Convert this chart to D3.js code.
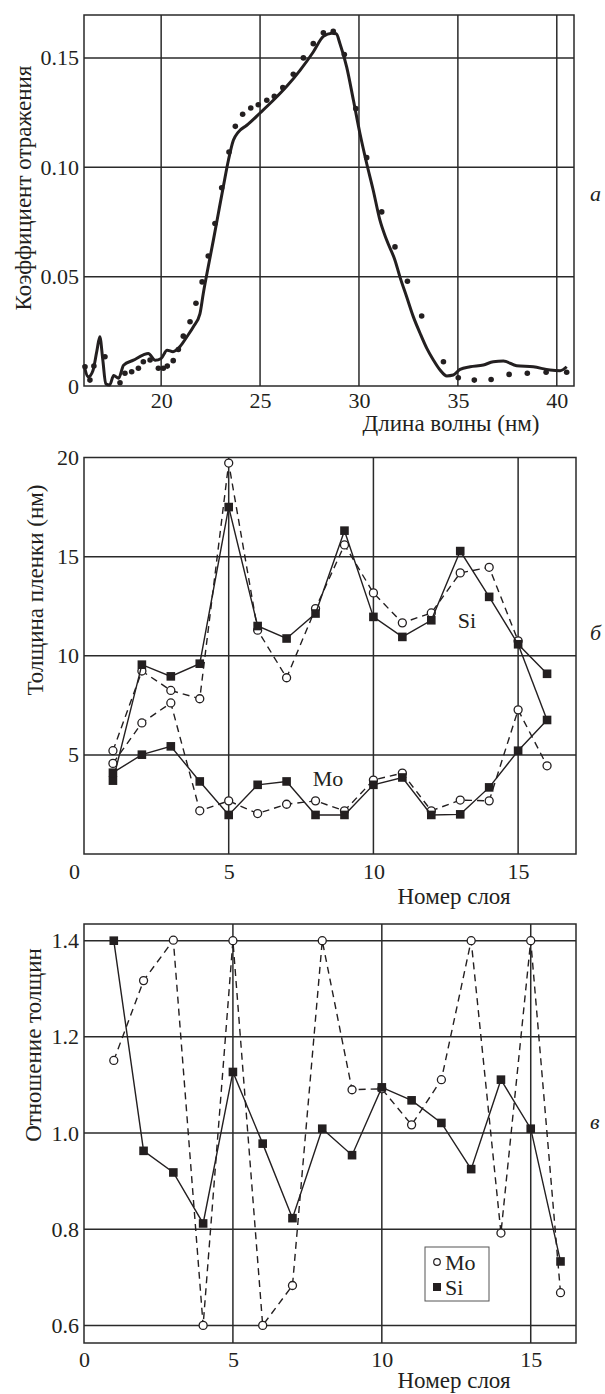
<!DOCTYPE html>
<html>
<head>
<meta charset="utf-8">
<script src="https://cdn.jsdelivr.net/npm/d3@7/dist/d3.min.js"></script>
<style>
  body { margin: 0; background: #fff; }
  svg text { font-family: "Liberation Serif", "Times New Roman", serif; fill: #231f20; }
</style>
</head>
<body>
<div id="container"></div>
<script>
/* panel a: reflectance spectrum, calculated curve and measured points */
var specX = [16.1, 16.32, 16.55, 16.75, 16.9, 17.05, 17.2, 17.4, 17.6, 17.85, 18.1, 18.6, 19.1, 19.35, 19.7, 20.0, 20.3, 20.6, 20.95, 21.3,
  21.63, 21.96, 22.13, 22.38, 22.64, 22.89, 23.14, 23.4, 23.65, 23.9, 24.33, 25.0, 25.67, 26.35, 27.02, 27.69, 28.2, 28.62, 28.85, 29.04,
  29.38, 29.72, 30.05, 30.39, 30.72, 31.06, 31.4, 31.82, 32.07, 32.41, 32.75, 33.09, 33.43, 33.76, 34.1, 34.44, 34.77, 35.11, 35.62, 36.29,
  36.79, 37.3, 37.97, 38.81, 39.66, 40.17, 40.5]
var specY = [0.0096, 0.0042, 0.007, 0.016, 0.0225, 0.012, 0.001, 0.0005, 0.0048, 0.0035, 0.0095, 0.0118, 0.0142, 0.0149, 0.0118, 0.0126, 0.0164, 0.0157, 0.018, 0.0225,
  0.0271, 0.033, 0.0423, 0.0545, 0.0667, 0.0789, 0.091, 0.1032, 0.1123, 0.1161, 0.1192, 0.1248, 0.1306, 0.137, 0.1443, 0.1527, 0.1598, 0.1613, 0.161, 0.1565,
  0.1458, 0.1306, 0.1154, 0.1017, 0.0895, 0.0758, 0.0667, 0.0575, 0.0499, 0.0408, 0.0316, 0.0241, 0.0172, 0.0119, 0.0073, 0.0046, 0.005, 0.0076, 0.0088, 0.0096,
  0.0111, 0.0114, 0.0093, 0.0088, 0.0073, 0.007, 0.0088]
var dotX = [16.15, 16.4, 16.6, 17.16, 17.92, 18.17, 18.51, 18.85, 19.1, 19.44, 19.86, 20.11, 20.31, 20.61, 20.87, 21.12, 21.46, 21.76, 22.07, 22.38,
  22.72, 23.06, 23.43, 23.75, 24.12, 24.53, 24.91, 25.34, 25.72, 26.15, 26.68, 27.19, 27.69, 28.2, 28.7, 29.26, 29.84, 30.39, 31.15, 31.82,
  32.45, 33.17, 34.27, 35.02, 35.83, 36.68, 37.59, 38.51, 39.46, 40.5]
var dotY = [0.0088, 0.0027, 0.0091, 0.0134, 0.0015, 0.0058, 0.0065, 0.0081, 0.0111, 0.0119, 0.0081, 0.0081, 0.0091, 0.0116, 0.0167, 0.0228, 0.0294, 0.0378, 0.0476, 0.0594,
  0.0743, 0.0906, 0.107, 0.1187, 0.1242, 0.1271, 0.1286, 0.1306, 0.1324, 0.1364, 0.1425, 0.150, 0.1565, 0.1615, 0.1622, 0.1515, 0.1268, 0.1044, 0.0796, 0.0636,
  0.0479, 0.032, 0.0111, 0.0038, 0.0027, 0.003, 0.0053, 0.0058, 0.0063, 0.0063]
var aXTicks = [20, 25, 30, 35, 40]
var aYTicks = [0, 0.05, 0.10, 0.15]
var aYLabels = ['0', '0.05', '0.10', '0.15']

/* panel b: layer thickness (nm) */
var layers = [1, 2, 3, 4, 5, 6, 7, 8, 9, 10, 11, 12, 13, 14, 15, 16]
var siSquares = [3.7, 9.55, 8.96, 9.6, 17.5, 11.5, 10.87, 12.13, 16.31, 11.96, 10.95, 11.79, 15.28, 12.97, 10.58, 9.09]
var siCircles = [5.21, 9.23, 8.25, 7.83, 19.72, 11.29, 8.89, 12.38, 15.59, 13.17, 11.66, 12.16, 14.18, 14.46, 10.75]
var moSquares = [4.1, 5.01, 5.43, 3.66, 1.97, 3.49, 3.66, 1.97, 1.97, 3.49, 3.86, 1.97, 2.0, 3.36, 5.21, 6.76]
var moCircles = [4.57, 6.61, 7.62, 2.18, 2.68, 2.04, 2.51, 2.68, 2.18, 3.73, 4.08, 2.18, 2.72, 2.68, 7.27, 4.45]
var siToMoLink = [15, 16] // extra solid segment: Si layer 15 -> Mo layer 16
var bXTicks = [0, 5, 10, 15]
var bYTicks = [5, 10, 15, 20]

/* panel c: thickness ratio */
var moRatio = [1.151, 1.317, 1.401, 0.600, 1.40, 0.60, 0.683, 1.40, 1.090, 1.092, 1.017, 1.111, 1.40, 0.792, 1.40, 0.668]
var siRatio = [1.40, 0.963, 0.918, 0.812, 1.127, 0.978, 0.823, 1.009, 0.954, 1.095, 1.068, 1.021, 0.925, 1.111, 1.009, 0.733]
var cXTicks = [0, 5, 10, 15]
var cYTicks = [0.6, 0.8, 1.0, 1.2, 1.4]
var cYLabels = ['0.6', '0.8', '1.0', '1.2', '1.4']

var ink = '#231f20'
var serif = '"Liberation Serif", "Times New Roman", serif'
var tickSize = 22
var titleSize = 23

var svg = d3.select('#container').append('svg')
  .attr('width', 605)
  .attr('height', 1394)

function pairs (xs, ys) {
  return ys.map(function (v, i) { return [xs[i], v] })
}

function label (sel, size) {
  return sel.style('font-family', serif).style('font-size', size + 'px').style('fill', ink)
}

/* frame, grid, tick labels and titles of one panel */
function panel (o) {
  var x = d3.scaleLinear().domain(o.xDomain).range([o.left, o.right])
  var y = d3.scaleLinear().domain(o.yDomain).range([o.bottom, o.top])
  var g = svg.append('g')

  g.append('g').selectAll('line').data(o.xGrid).enter().append('line')
    .attr('x1', function (d) { return x(d) }).attr('x2', function (d) { return x(d) })
    .attr('y1', o.top).attr('y2', o.bottom)
    .style('stroke', '#2a2a2a').style('stroke-width', 1.5)
  g.append('g').selectAll('line').data(o.yGrid).enter().append('line')
    .attr('y1', function (d) { return y(d) }).attr('y2', function (d) { return y(d) })
    .attr('x1', o.left).attr('x2', o.right)
    .style('stroke', '#2a2a2a').style('stroke-width', 1.5)
  g.append('rect')
    .attr('x', o.left).attr('y', o.top)
    .attr('width', o.right - o.left).attr('height', o.bottom - o.top)
    .style('fill', 'none').style('stroke', '#2a2a2a').style('stroke-width', 1.5)

  var xAxis = g.append('g')
    .attr('transform', 'translate(0,' + o.bottom + ')')
    .call(d3.axisBottom(x).tickValues(o.xTicks).tickSize(0).tickPadding(o.xPad).tickFormat(d3.format('d')))
  var yAxis = g.append('g')
    .attr('transform', 'translate(' + o.left + ',0)')
    .call(d3.axisLeft(y).tickValues(o.yTicks).tickSize(0).tickPadding(5)
      .tickFormat(function (d, i) { return o.yLabels ? o.yLabels[i] : d }))
  ;[xAxis, yAxis].forEach(function (ax) {
    ax.select('.domain').remove()
    label(ax.selectAll('text'), tickSize)
  })
  if (o.zeroShift) xAxis.selectAll('.tick text').filter(function (d) { return d === 0 }).attr('dx', o.zeroShift)

  label(g.append('text'), titleSize)
    .attr('transform', 'translate(' + o.yTitlePos[0] + ',' + o.yTitlePos[1] + ') rotate(-90)')
    .attr('text-anchor', 'middle').attr('dy', '0.35em')
    .text(o.yTitle)
  label(g.append('text'), titleSize)
    .attr('x', o.xTitlePos[0]).attr('y', o.xTitlePos[1])
    .attr('text-anchor', 'middle')
    .text(o.xTitle)
  label(g.append('text'), tickSize)
    .attr('x', o.letterPos[0]).attr('y', o.letterPos[1])
    .style('font-style', 'italic')
    .text(o.letter)

  return { g: g, x: x, y: y }
}

function series (p, data, opts) {
  var line = d3.line().x(function (d) { return p.x(d[0]) }).y(function (d) { return p.y(d[1]) })
  p.g.append('path')
    .datum(data)
    .attr('d', line)
    .style('fill', 'none').style('stroke', ink).style('stroke-width', 1.4)
    .style('stroke-dasharray', opts.dashed ? '7,5' : null)
  var m = p.g.append('g').selectAll(opts.square ? 'rect' : 'circle').data(data).enter()
  if (opts.square) {
    m.append('rect')
      .attr('x', function (d) { return p.x(d[0]) - 4.3 })
      .attr('y', function (d) { return p.y(d[1]) - 4.3 })
      .attr('width', 8.6).attr('height', 8.6)
      .style('fill', ink)
  } else {
    m.append('circle')
      .attr('cx', function (d) { return p.x(d[0]) })
      .attr('cy', function (d) { return p.y(d[1]) })
      .attr('r', 4)
      .style('fill', '#fff').style('stroke', ink).style('stroke-width', 1.3)
  }
}

/* ---- panel a ---- */
var pa = panel({
  left: 84, right: 574, top: 15, bottom: 386,
  xDomain: [16.1, 40.87], yDomain: [0, 0.1696],
  xGrid: aXTicks, yGrid: aYTicks.slice(1),
  xTicks: aXTicks, yTicks: aYTicks, yLabels: aYLabels, xPad: 6,
  yTitle: 'Коэффициент отражения', yTitlePos: [23, 188],
  xTitle: 'Длина волны (нм)', xTitlePos: [451, 431],
  letter: 'а', letterPos: [590, 201]
})

pa.g.append('path')
  .datum(pairs(specX, specY))
  .attr('d', d3.line().curve(d3.curveMonotoneX)
    .x(function (d) { return pa.x(d[0]) }).y(function (d) { return pa.y(d[1]) }))
  .style('fill', 'none').style('stroke', ink).style('stroke-width', 3)
  .style('stroke-linejoin', 'round')

pa.g.append('g').selectAll('circle').data(pairs(dotX, dotY)).enter().append('circle')
  .attr('cx', function (d) { return pa.x(d[0]) })
  .attr('cy', function (d) { return pa.y(d[1]) })
  .attr('r', 2.8)
  .style('fill', ink)

/* ---- panel b ---- */
var pb = panel({
  left: 84, right: 576, top: 457.5, bottom: 854,
  xDomain: [0, 17], yDomain: [0, 20],
  xGrid: [5, 10, 15], yGrid: [5, 10, 15],
  xTicks: bXTicks, yTicks: bYTicks, xPad: 9, zeroShift: -10,
  yTitle: 'Толщина пленки (нм)', yTitlePos: [35, 590],
  xTitle: 'Номер слоя', xTitlePos: [454, 904],
  letter: 'б', letterPos: [590, 640]
})

series(pb, pairs(layers, siCircles), { dashed: true })
series(pb, pairs(layers, moCircles), { dashed: true })
pb.g.append('line')
  .attr('x1', pb.x(siToMoLink[0])).attr('y1', pb.y(siSquares[siToMoLink[0] - 1]))
  .attr('x2', pb.x(siToMoLink[1])).attr('y2', pb.y(moSquares[siToMoLink[1] - 1]))
  .style('stroke', ink).style('stroke-width', 1.4)
series(pb, pairs(layers, siSquares), { square: true })
series(pb, pairs(layers, moSquares), { square: true })

label(pb.g.append('text'), tickSize).attr('x', pb.x(13.23)).attr('y', pb.y(11.8)).attr('dy', '0.35em')
  .attr('text-anchor', 'middle').text('Si')
label(pb.g.append('text'), tickSize).attr('x', pb.x(8.43)).attr('y', pb.y(3.8)).attr('dy', '0.35em')
  .attr('text-anchor', 'middle').text('Mo')

/* ---- panel c ---- */
var pc = panel({
  left: 84, right: 576, top: 924, bottom: 1343,
  xDomain: [0, 16.52], yDomain: [0.5634, 1.4347],
  xGrid: [5, 10, 15], yGrid: cYTicks,
  xTicks: cXTicks, yTicks: cYTicks, yLabels: cYLabels, xPad: 8,
  yTitle: 'Отношение толщин', yTitlePos: [33, 1045],
  xTitle: 'Номер слоя', xTitlePos: [454, 1388],
  letter: 'в', letterPos: [590, 1129]
})

series(pc, pairs(layers, moRatio), { dashed: true })
series(pc, pairs(layers, siRatio), { square: true })

/* legend */
var lg = pc.g.append('g').attr('transform', 'translate(425,1247)')
lg.append('rect').attr('width', 64).attr('height', 54)
  .style('fill', '#fff').style('stroke', '#555').style('stroke-width', 1)
lg.append('circle').attr('cx', 12).attr('cy', 15).attr('r', 3.3)
  .style('fill', '#fff').style('stroke', ink).style('stroke-width', 1.2)
label(lg.append('text'), tickSize).attr('x', 20).attr('y', 15).attr('dy', '0.35em').text('Mo')
lg.append('rect').attr('x', 8).attr('y', 36).attr('width', 8).attr('height', 8).style('fill', ink)
label(lg.append('text'), tickSize).attr('x', 20).attr('y', 40).attr('dy', '0.35em').text('Si')
</script>
</body>
</html>
